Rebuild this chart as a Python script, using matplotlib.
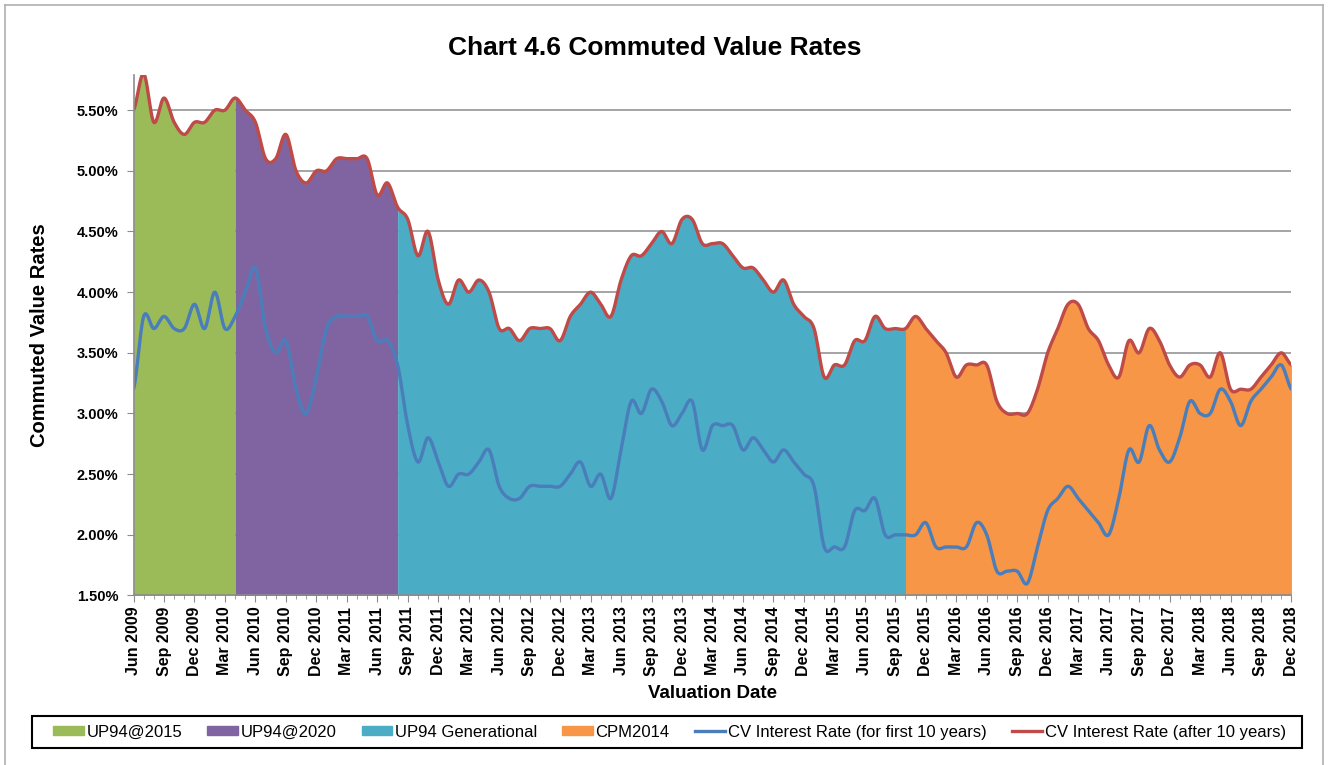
import numpy as np
import pandas as pd
import matplotlib
matplotlib.use('Agg')
import matplotlib.pyplot as plt
from matplotlib.patches import Patch, Rectangle
from matplotlib.lines import Line2D

plt.rcParams['font.family'] = ['Liberation Sans', 'DejaVu Sans']

# monthly valuation dates, Jun 2009 - Dec 2018
dates = pd.date_range('2009-06-01', '2018-12-01', freq='MS')
tick_labels = [d.strftime('%b %Y') for d in dates[::3]]

# CV interest rate (after 10 years), %
rate_after = [
    5.5, 5.8, 5.4, 5.6, 5.4, 5.3, 5.4, 5.4, 5.5, 5.5,
    5.6, 5.5, 5.4, 5.1, 5.1, 5.3, 5.0, 4.9, 5.0, 5.0,
    5.1, 5.1, 5.1, 5.1, 4.8, 4.9, 4.7, 4.6, 4.3, 4.5,
    4.1, 3.9, 4.1, 4.0, 4.1, 4.0, 3.7, 3.7, 3.6, 3.7,
    3.7, 3.7, 3.6, 3.8, 3.9, 4.0, 3.9, 3.8, 4.1, 4.3,
    4.3, 4.4, 4.5, 4.4, 4.6, 4.6, 4.4, 4.4, 4.4, 4.3,
    4.2, 4.2, 4.1, 4.0, 4.1, 3.9, 3.8, 3.7, 3.3, 3.4,
    3.4, 3.6, 3.6, 3.8, 3.7, 3.7, 3.7, 3.8, 3.7, 3.6,
    3.5, 3.3, 3.4, 3.4, 3.4, 3.1, 3.0, 3.0, 3.0, 3.2,
    3.5, 3.7, 3.9, 3.9, 3.7, 3.6, 3.4, 3.3, 3.6, 3.5,
    3.7, 3.6, 3.4, 3.3, 3.4, 3.4, 3.3, 3.5, 3.2, 3.2,
    3.2, 3.3, 3.4, 3.5, 3.4,
]

# CV interest rate (for first 10 years), %
rate_first = [
    3.2, 3.8, 3.7, 3.8, 3.7, 3.7, 3.9, 3.7, 4.0, 3.7,
    3.8, 4.0, 4.2, 3.7, 3.5, 3.6, 3.2, 3.0, 3.3, 3.7,
    3.8, 3.8, 3.8, 3.8, 3.6, 3.6, 3.4, 2.9, 2.6, 2.8,
    2.6, 2.4, 2.5, 2.5, 2.6, 2.7, 2.4, 2.3, 2.3, 2.4,
    2.4, 2.4, 2.4, 2.5, 2.6, 2.4, 2.5, 2.3, 2.7, 3.1,
    3.0, 3.2, 3.1, 2.9, 3.0, 3.1, 2.7, 2.9, 2.9, 2.9,
    2.7, 2.8, 2.7, 2.6, 2.7, 2.6, 2.5, 2.4, 1.9, 1.9,
    1.9, 2.2, 2.2, 2.3, 2.0, 2.0, 2.0, 2.0, 2.1, 1.9,
    1.9, 1.9, 1.9, 2.1, 2.0, 1.7, 1.7, 1.7, 1.6, 1.9,
    2.2, 2.3, 2.4, 2.3, 2.2, 2.1, 2.0, 2.3, 2.7, 2.6,
    2.9, 2.7, 2.6, 2.8, 3.1, 3.0, 3.0, 3.2, 3.1, 2.9,
    3.1, 3.2, 3.3, 3.4, 3.2,
]

# mortality table in use: name, first and last month index
tables = ['UP94@2015', 'UP94@2020', 'UP94 Generational', 'CPM2014']
table_start = [0, 10, 26, 76]
table_end = [10, 26, 76, 114]
table_colors = ['#9BBB59', '#8064A2', '#4BACC6', '#F79646']


def smooth(y, n=20):
    # catmull-rom, like excel "smoothed line"
    y = np.asarray(y, dtype=float)
    p = np.concatenate([[y[0]], y, [y[-1]]])
    t = np.linspace(0, 1, n, endpoint=False)
    xs, ys = [], []
    for i in range(len(y) - 1):
        p0, p1, p2, p3 = p[i], p[i + 1], p[i + 2], p[i + 3]
        seg = 0.5 * (2 * p1 + (-p0 + p2) * t + (2 * p0 - 5 * p1 + 4 * p2 - p3) * t ** 2
                     + (-p0 + 3 * p1 - 3 * p2 + p3) * t ** 3)
        xs.append(i + t)
        ys.append(seg)
    xs.append([len(y) - 1])
    ys.append([y[-1]])
    return np.concatenate(xs), np.concatenate(ys)


x_a, y_a = smooth(rate_after)
x_f, y_f = smooth(rate_first)

fig = plt.figure(figsize=(13.34, 7.65), dpi=100)
ax = fig.add_axes([0.1001, 0.2216, 0.868, 0.6804])

for name, s, e, c in zip(tables, table_start, table_end, table_colors):
    m = (x_a >= s) & (x_a <= e)
    ax.fill_between(x_a[m], 0, y_a[m], color=c, lw=0, zorder=2)

ax.plot(x_f, y_f, color='#4A7EBB', lw=2.4, zorder=4, solid_capstyle='round')
ax.plot(x_a, y_a, color='#BE4B48', lw=2.4, zorder=4, solid_capstyle='round')

ax.set_xlim(0, len(dates) - 1)
ax.set_ylim(1.5, 5.79)
ax.set_yticks(np.arange(1.5, 5.51, 0.5))
ax.set_yticklabels([f'{v:.2f}%' for v in np.arange(1.5, 5.51, 0.5)],
                   fontsize=10.5, fontweight='bold')
ax.set_xticks(np.arange(0, len(dates), 3))
ax.set_xticks(np.arange(0, len(dates)), minor=True)
ax.set_xticklabels(tick_labels, rotation=90, fontsize=11.5, fontweight='bold')

ax.grid(axis='y', color='#8C8C8C', lw=1.1, zorder=1)
ax.set_axisbelow(True)
for sp in ['top', 'right']:
    ax.spines[sp].set_visible(False)
for sp in ['left', 'bottom']:
    ax.spines[sp].set_color('#8C8C8C')
    ax.spines[sp].set_linewidth(1.2)
    ax.spines[sp].set_zorder(5)
ax.tick_params(axis='both', which='both', color='#8C8C8C', direction='out')
ax.tick_params(axis='x', which='major', length=5, pad=3)
ax.tick_params(axis='x', which='minor', length=3)
ax.tick_params(axis='y', length=5, pad=6)

ax.set_ylabel('Commuted Value Rates', fontsize=14.5, fontweight='bold', labelpad=20)
ax.set_xlabel('Valuation Date', fontsize=13.5, fontweight='bold', labelpad=6)
fig.text(0.491, 0.937, 'Chart 4.6 Commuted Value Rates', ha='center', va='center',
         fontsize=19, fontweight='bold')

handles = [Patch(color=c) for c in table_colors]
handles += [Line2D([], [], color='#4A7EBB', lw=2.4), Line2D([], [], color='#BE4B48', lw=2.4)]
labels = tables + ['CV Interest Rate (for first 10 years)', 'CV Interest Rate (after 10 years)']
fig.legend(handles, labels, loc='center', bbox_to_anchor=(0.502, 0.043), ncol=6,
           frameon=False, handlelength=1.85, handleheight=0.45, handletextpad=0.15,
           columnspacing=1.5, borderpad=0.5, borderaxespad=0, fontsize=12)
# legend box
fig.add_artist(Rectangle((32 / 1334, 1 - 748 / 765), 1270 / 1334, 32 / 765,
                         transform=fig.transFigure, fill=False, ec='black', lw=1.5))

# outer chart frame
for xs_, ys_ in [([5, 5], [0, 760]), ([5, 1323], [760, 760]), ([1323, 1323], [0, 760])]:
    fig.add_artist(Line2D(np.array(xs_) / 1334, np.array(ys_) / 765, color='#B0B0B0', lw=1.2))

fig.savefig('out.png', dpi=100)
